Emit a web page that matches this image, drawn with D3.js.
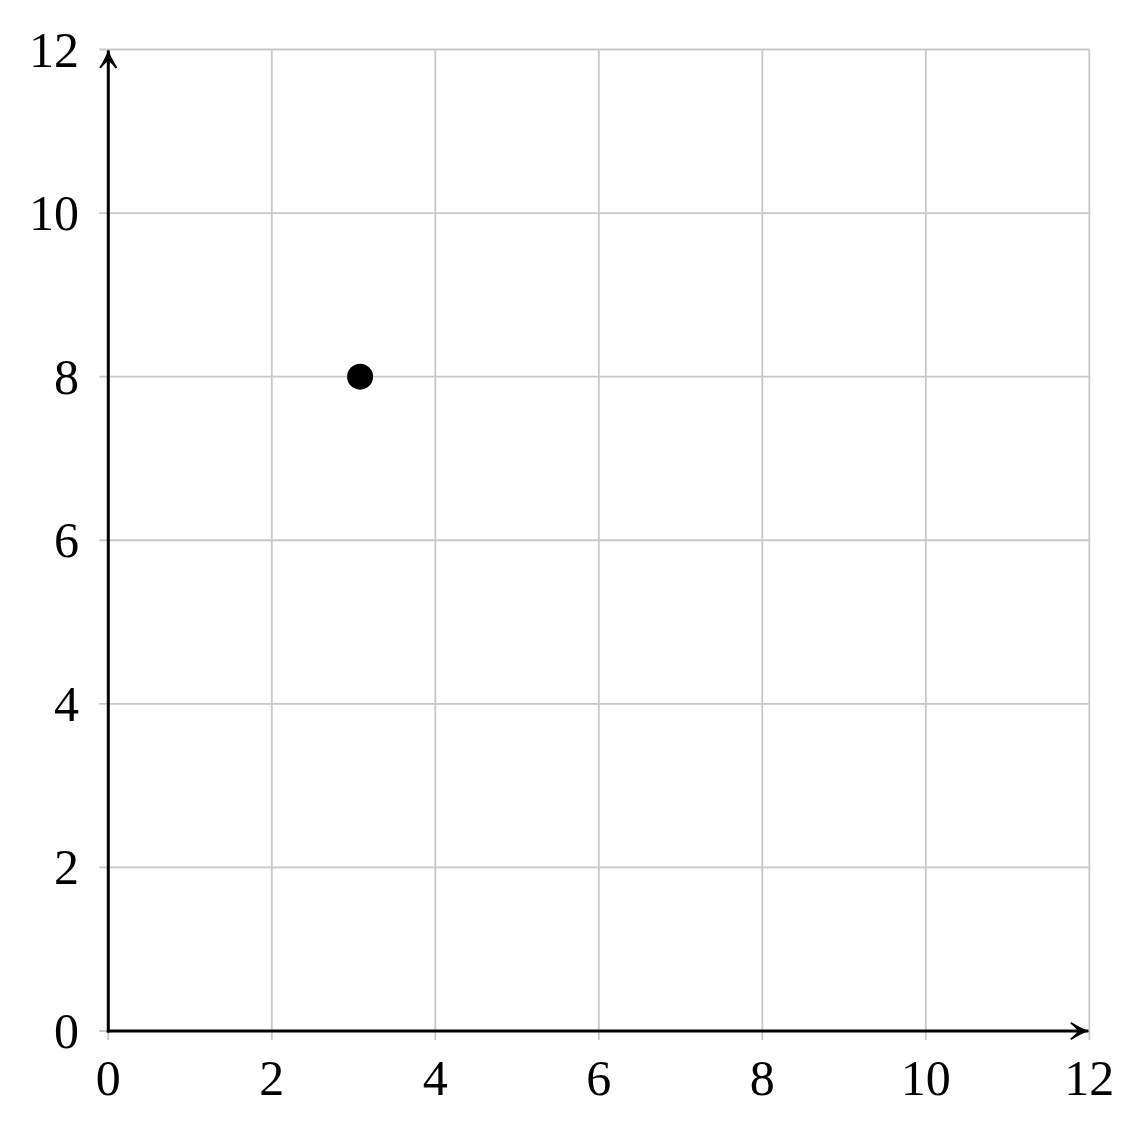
<!DOCTYPE html>
<html><head><meta charset="utf-8">
<script src="https://cdn.jsdelivr.net/npm/d3@7"></script>
<style>body{margin:0;background:#fff;}svg{display:block;}</style>
</head><body>
<script>
const xTicks = [0, 2, 4, 6, 8, 10, 12];
const yTicks = [0, 2, 4, 6, 8, 10, 12];
const pointsX = [3.08];
const pointsY = [8];

const W = 1140, H = 1125;
const svg = d3.select("body").append("svg").attr("width", W).attr("height", H);
const x = d3.scaleLinear().domain([0, 12]).range([108.3, 1089.3]);
const y = d3.scaleLinear().domain([0, 12]).range([1031, 49.5]);
const font = "'Liberation Serif', 'DejaVu Serif', serif";

// grid
const g = svg.append("g");
g.selectAll(".vx").data(xTicks).join("line")
  .attr("x1", d => x(d)).attr("x2", d => x(d))
  .attr("y1", y(12)).attr("y2", y(0) + 9)
  .attr("stroke", "#c8c8c8").attr("stroke-width", 1.8);
g.selectAll(".hy").data(yTicks).join("line")
  .attr("y1", d => y(d)).attr("y2", d => y(d))
  .attr("x1", x(0) - 9).attr("x2", x(12))
  .attr("stroke", "#c8c8c8").attr("stroke-width", 1.8);

// arrow marker
const defs = svg.append("defs");
defs.append("marker").attr("id", "arr")
  .attr("viewBox", "-20 -10 22 20").attr("refX", 0).attr("refY", 0)
  .attr("markerWidth", 22).attr("markerHeight", 20)
  .attr("markerUnits", "userSpaceOnUse").attr("orient", "auto")
  .append("path")
  .attr("d", "M1,0 Q-7,-2.5 -17,-9 L-18,-7.5 Q-11,-2 -11,0 Q-11,2 -18,7.5 L-17,9 Q-7,2.5 1,0 Z")
  .attr("fill", "#000");

// axes
svg.append("line").attr("x1", x(0) - 1.5).attr("x2", x(12) - 1)
  .attr("y1", y(0)).attr("y2", y(0))
  .attr("stroke", "#000").attr("stroke-width", 3).attr("marker-end", "url(#arr)");
svg.append("line").attr("x1", x(0)).attr("x2", x(0))
  .attr("y1", y(0) + 1.5).attr("y2", y(12) + 1)
  .attr("stroke", "#000").attr("stroke-width", 3).attr("marker-end", "url(#arr)");

// labels
svg.selectAll(".xl").data(xTicks).join("text")
  .attr("x", d => x(d)).attr("y", 1095)
  .attr("text-anchor", "middle")
  .attr("font-family", font).attr("font-size", 50).attr("fill", "#000")
  .text(d => d);
svg.selectAll(".yl").data(yTicks).join("text")
  .attr("x", 79).attr("y", d => y(d)).attr("dy", "0.34em")
  .attr("text-anchor", "end")
  .attr("font-family", font).attr("font-size", 50).attr("fill", "#000")
  .text(d => d);

// points
svg.selectAll(".pt").data(pointsX).join("circle")
  .attr("cx", (d, i) => x(d)).attr("cy", (d, i) => y(pointsY[i]))
  .attr("r", 13).attr("fill", "#000");
</script>
</body></html>
